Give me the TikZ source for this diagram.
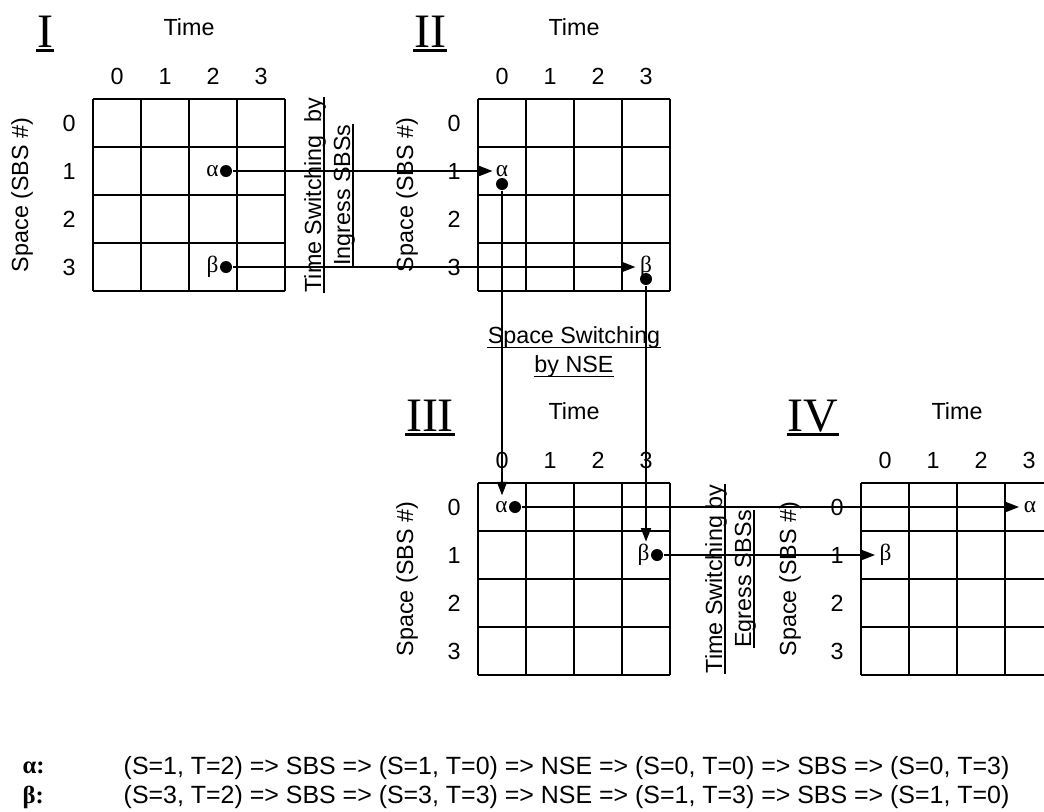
\documentclass[tikz,border=0pt]{standalone}
\usepackage{fontspec}
\setmainfont{Liberation Sans}
\newfontfamily\grkfont{Liberation Serif}
\usetikzlibrary{arrows.meta,calc}

\tikzset{every picture/.style={line width=1.1pt}}

\begin{document}
\begin{tikzpicture}[x=0.75pt,y=0.75pt,yscale=-1,xscale=1,
  lbl/.style={inner sep=0pt, font=\fontsize{17.5}{21}\selectfont},
  numeral/.style={inner sep=0pt, font=\grkfont\fontsize{36}{40}\selectfont},
  grk/.style={inner sep=0pt, font=\grkfont\fontsize{17.5}{21}\selectfont},
  keylbl/.style={inner sep=0pt, anchor=west, font=\grkfont\bfseries\fontsize{18.5}{22}\selectfont},
  pathlbl/.style={inner sep=0pt, anchor=west, font=\fontsize{18.7}{22}\selectfont},
  dot/.style={circle, fill, inner sep=0pt, minimum size=9pt},
  flow/.style={-{Triangle[length=10pt,width=7.5pt]}},
  uline/.style={line width=1.3pt},
  ]
\useasboundingbox (0,0) rectangle (1044,811);
\clip (0,0) rectangle (1044,811);

%Shape: Grids I to IV with their labels
\foreach \gx/\gy/\gn/\gnum in {93/99/I/1, 478/99/II/2, 478/483/III/3, 861/483/IV/4} {
  \foreach \k in {0,...,4} {
    \draw (\gx+48*\k,\gy) -- (\gx+48*\k,\gy+192);
    \draw (\gx,\gy+48*\k) -- (\gx+192,\gy+48*\k);
  }
  \foreach \k in {0,...,3} {
    \node[lbl] (col\gnum\k) at (\gx+24+48*\k,\gy-23) {\k};
    \node[lbl] (row\gnum\k) at (\gx-24,\gy+24+48*\k) {\k};
  }
  \node[lbl] (time\gnum) at (\gx+96,\gy-72) {Time};
  \node[lbl, rotate=90] (space\gnum) at (\gx-71,\gy+96) {Space (SBS \#)};
  \node[numeral, anchor=base] (roman\gnum) at (\gx-48,\gy-52) {\gn};
  \draw[line width=2.2pt] ($(roman\gnum.base west)+(0,3.5)$) -- ($(roman\gnum.base east)+(0,3.5)$);
}

% Text Node: switching stages
\node[lbl, rotate=90, anchor=base] (tsin1) at (321,195) {Time Switching~~by};
\node[lbl, rotate=90, anchor=base] (tsin2) at (350,195) {Ingress SBSs};
\node[lbl, rotate=90, anchor=base] (tseg1) at (722,579) {Time Switching by};
\node[lbl, rotate=90, anchor=base] (tseg2) at (751,579) {Egress SBSs};
\foreach \n in {tsin1,tsin2,tseg1,tseg2}
  \draw[uline] ($(\n.base west)+(3,0)$) -- ($(\n.base east)+(3,0)$);
\node[lbl, anchor=base] (ssn1) at (574,343) {Space Switching};
\node[lbl, anchor=base] (ssn2) at (574,372) {by NSE};
\foreach \n in {ssn1,ssn2}
  \draw[uline] ($(\n.base west)+(0,4.5)$) -- ($(\n.base east)+(0,4.5)$);

% Slots of alpha
\node[dot] (a1) at (226,171) {};
\node[grk, anchor=east] (a1l) at (a1.west) {α};
\node[grk] (a2l) at (502,171) {α};
\node[dot] (a2) at (502,184) {};
\node[dot] (a3) at (515,507) {};
\node[grk, anchor=east] (a3l) at (a3.west) {α};
\node[grk, anchor=west] (a4l) at (1023,507) {α};
% Slots of beta
\node[dot] (b1) at (226,267) {};
\node[grk, anchor=east] (b1l) at (b1.west) {β};
\node[grk] (b2l) at (646,267) {β};
\node[dot] (b2) at (646,279) {};
\node[dot] (b3) at (657,555) {};
\node[grk, anchor=east] (b3l) at (b3.west) {β};
\node[grk, anchor=west] (b4l) at (879,555) {β};

%Straight Lines: switching paths
\draw[flow, shorten >=2pt] (a1) -- (a2l.west);
\draw[flow, shorten >=4pt] (a2) -- (a2 |- a3l.north);
\draw[flow, shorten >=3pt] (a3) -- (a4l.west);
\draw[flow, shorten >=3pt] (b1) -- (b2l.west);
\draw[flow, shorten >=1.5pt] (b2) -- (b2 |- b3l.north);
\draw[flow, shorten >=3pt] (b3) -- (b4l.west);

% Text Node: summary
\node[keylbl] (keya) at (22,768) {α:};
\node[pathlbl] (patha) at (123,768) {(S=1, T=2) => SBS => (S=1, T=0) => NSE => (S=0, T=0) => SBS => (S=0, T=3)};
\node[keylbl] (keyb) at (22,797) {β:};
\node[pathlbl] (pathb) at (123,797) {(S=3, T=2) => SBS => (S=3, T=3) => NSE => (S=1, T=3) => SBS => (S=1, T=0)};
\end{tikzpicture}
\end{document}
